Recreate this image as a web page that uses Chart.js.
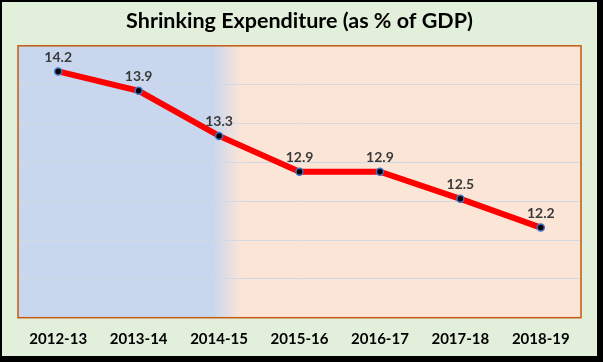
<!DOCTYPE html>
<html>
<head>
<meta charset="utf-8">
<script src="https://cdn.jsdelivr.net/npm/chart.js@4/dist/chart.umd.min.js"></script>
<style>
  html, body { margin: 0; padding: 0; background: #000; }
  #wrap { position: absolute; left: 0; top: 0; width: 603px; height: 362px; background: #000; }
  #box { position: absolute; left: 2px; top: 2px; width: 595px; height: 354px; }
</style>
</head>
<body>
<div id="wrap"><div id="box"><canvas id="c" width="595" height="354"></canvas></div></div>
<script>
const categories = ["2012-13", "2013-14", "2014-15", "2015-16", "2016-17", "2017-18", "2018-19"];
const expenditure = [14.17, 13.92, 13.34, 12.88, 12.88, 12.53, 12.16];
const titleText = "Shrinking Expenditure (as % of GDP)";
const yMin = 11, yMax = 14.5, yStep = 0.5;

const bgPlugin = {
  id: 'bgPlugin',
  beforeDraw(chart) {
    const { ctx, chartArea: a, width, height } = chart;
    ctx.save();
    ctx.fillStyle = '#e2efda';
    ctx.fillRect(0, 0, width, height);
    const g = ctx.createLinearGradient(a.left, 0, a.right, 0);
    g.addColorStop(0, '#c8d7ee');
    g.addColorStop(0.346, '#c8d7ee');
    g.addColorStop(0.396, '#fbe5d6');
    g.addColorStop(1, '#fbe5d6');
    ctx.fillStyle = g;
    ctx.fillRect(a.left, a.top, a.right - a.left, a.bottom - a.top);
    ctx.restore();
  },
  afterDraw(chart) {
    const { ctx, chartArea: a } = chart;
    ctx.save();
    ctx.strokeStyle = '#c55a11';
    ctx.lineWidth = 1.5;
    ctx.strokeRect(a.left, a.top, a.right - a.left, a.bottom - a.top);
    ctx.restore();
  },
  afterDatasetsDraw(chart) {
    const { ctx } = chart;
    const meta = chart.getDatasetMeta(0);
    ctx.save();
    ctx.font = 'bold 14px Lato';
    ctx.fillStyle = '#3a3a3a';
    ctx.textAlign = 'center';
    ctx.textBaseline = 'middle';
    meta.data.forEach((pt, i) => {
      ctx.fillText(expenditure[i].toFixed(1), pt.x, pt.y - 14);
    });
    ctx.restore();
  }
};

new Chart(document.getElementById('c'), {
  type: 'line',
  data: {
    labels: categories,
    datasets: [{
      data: expenditure,
      borderColor: '#ff0000',
      borderWidth: 6,
      tension: 0,
      pointRadius: 3.5,
      pointBackgroundColor: '#000000',
      pointBorderColor: '#4472c4',
      pointBorderWidth: 1.5,
      pointHoverRadius: 3.5
    }]
  },
  options: {
    responsive: false,
    animation: false,
    events: [],
    layout: { padding: { left: 16, right: 16, top: 0, bottom: 0 } },
    plugins: {
      legend: { display: false },
      tooltip: { enabled: false },
      title: {
        display: true,
        text: titleText,
        color: '#000000',
        font: { family: 'Lato', size: 21.5, weight: 'bold' },
        padding: { top: 6, bottom: 12 }
      }
    },
    scales: {
      x: {
        offset: true,
        grid: { display: false, drawTicks: false },
        border: { display: false },
        afterFit(s) { s.height = 38.3; },
        ticks: {
          color: '#000000',
          padding: 12,
          font: { family: 'Lato', size: 15, weight: 'bold' },
          maxRotation: 0
        }
      },
      y: {
        min: yMin,
        max: yMax,
        ticks: { display: false, stepSize: yStep },
        grid: { color: '#d3d9e2', lineWidth: 1, drawTicks: false },
        border: { display: false }
      }
    }
  },
  plugins: [bgPlugin]
});
</script>
</body>
</html>
